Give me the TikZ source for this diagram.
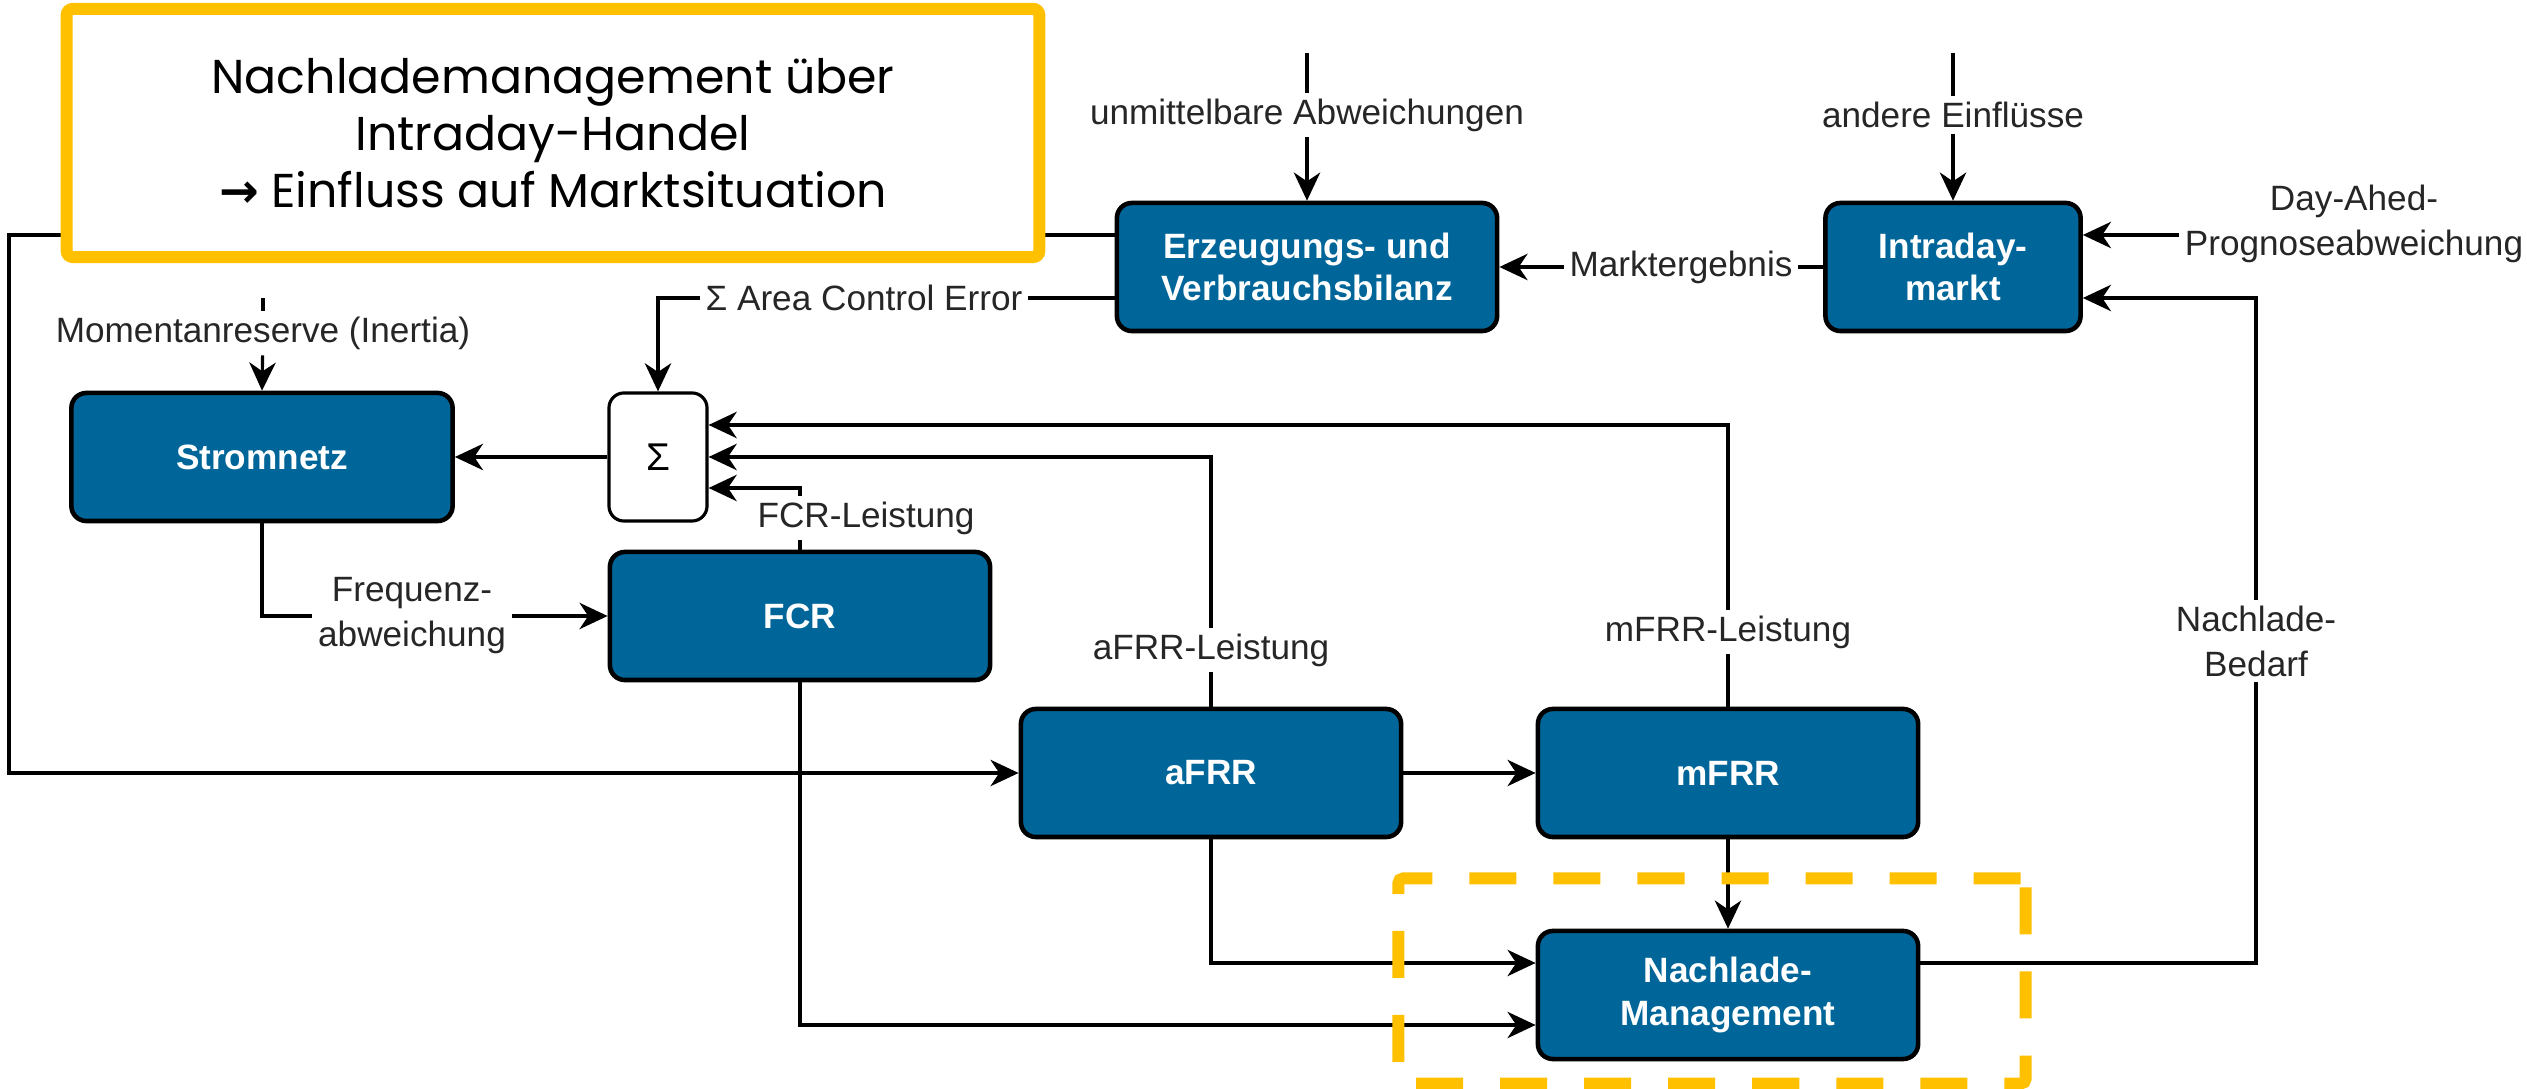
\documentclass[tikz,border=0pt]{standalone}
\usepackage{fontspec}
\setmainfont{Liberation Sans}
\newfontfamily\hinweisfont{Poppins}
\newfontfamily\pfeilfont{DejaVu Sans}
\usepackage{tikz}
\usetikzlibrary{positioning,calc,arrows.meta}
\definecolor{blockblau}{RGB}{0,102,153}
\definecolor{markgelb}{RGB}{255,192,0}
\tikzset{
  block/.style={draw=black, line width=1.3pt, fill=blockblau, rounded corners=0.15cm,
    text=white, font=\fontsize{10}{12}\selectfont\bfseries, align=center,
    minimum width=3.8cm, minimum height=1.28cm, inner sep=2pt},
  sumbox/.style={draw=black, line width=0.9pt, fill=white, rounded corners=0.15cm,
    minimum width=0.98cm, minimum height=1.28cm, font=\fontsize{11}{13}\selectfont},
  lbl/.style={fill=white, text=black!85, font=\fontsize{10}{12.8}\selectfont,
    align=center, inner sep=1.5pt},
  conn/.style={line width=0.9pt},
  arr/.style={conn, -{Stealth[length=8pt,width=7.5pt,inset=2.5pt]}},
  hinweis/.style={draw=markgelb, line width=0.12cm, fill=white, rounded corners=0.06cm,
    minimum width=9.72cm, minimum height=2.48cm, align=center,
    font=\hinweisfont\fontsize{13.5}{16.2}\selectfont},
  fokus/.style={draw=markgelb, line width=0.12cm, dash pattern=on 0.47cm off 0.37cm,
    rounded corners=0.05cm, minimum width=6.27cm, minimum height=2.05cm}
}
\begin{document}
\begin{tikzpicture}[x=0.01cm, y=-0.01cm]
\useasboundingbox (0,0) rectangle (2527,1089);

\node[block] (erz) at (1307,267) {Erzeugungs- und\\Verbrauchsbilanz};
\node[block, minimum width=2.55cm] (intra) at (1953,267) {Intraday-\\markt};
\node[block, minimum width=3.81cm] (netz) at (262,457) {Stromnetz};
\node[sumbox] (sigma) at (658,457) {Σ};
\node[block] (fcr) at (800,616) {FCR};
\node[block] (afrr) at (1211,773) {aFRR};
\node[block] (mfrr) at (1728,773) {mFRR};
\node[block] (nach) at (1728,995) {Nachlade-\\Management};

\node[lbl] (lblUnm) at (1307,115) {unmittelbare Abweichungen};
\node[lbl] (lblAnd) at (1953,115) {andere Einflüsse};
\node[lbl] (lblDay) at (2354,224) {Day-Ahed-\\Prognoseabweichung};
\node[lbl] (lblMarkt) at (1681,267) {Marktergebnis};
\node[lbl] (lblACE) at (864,298) {Σ Area Control Error};
\node[lbl] (lblMom) at (263,333) {Momentanreserve (Inertia)};
\node[lbl] (lblFreq) at (412,616) {Frequenz-\\abweichung};
\node[lbl] (lblAfrr) at (1211,650) {aFRR-Leistung};
\node[lbl] (lblMfrr) at (1728,632) {mFRR-Leistung};
\node[lbl] (lblBed) at (2256,641) {Nachlade-\\Bedarf};

\coordinate (cUnm) at (1307,53);
\coordinate (cAnd) at (1953,53);
\coordinate (cMom) at (263,298);
\coordinate (cLeft) at (9,235);

% Markt
\draw[conn] (cUnm) -- (lblUnm);
\draw[arr] (lblUnm) -- (erz);
\draw[conn] (cAnd) -- (lblAnd);
\draw[arr] (lblAnd) -- (intra);
\draw[arr] ($(lblDay.west)+(0,11)$) -- ($(intra.east)+(0,-32)$);
\draw[conn] (intra.west) -- (lblMarkt.east);
\draw[arr] (lblMarkt.west) -- (erz.east);
\draw[conn] ($(nach.east)+(0,-32)$) -| (lblBed.south);
\draw[arr] (lblBed.north) |- ($(intra.east)+(0,31)$);

% Regelung
\draw[conn] ($(erz.west)+(0,31)$) -- (lblACE.east);
\draw[arr] (lblACE.west) -| (sigma.north);
\draw[arr] ($(erz.west)+(0,-32)$) -- (cLeft) |- (afrr.west);
\draw[conn] (cMom) -- (lblMom);
\draw[arr] (lblMom) -- (netz.north);
\draw[arr] (sigma.west) -- (netz.east);
\draw[conn] (mfrr.north) -- (lblMfrr.south);
\draw[arr] (lblMfrr.north) |- ($(sigma.east)+(0,-32)$);
\draw[conn] (afrr.north) -- (lblAfrr.south);
\draw[arr] (lblAfrr.north) |- (sigma.east);
\draw[arr] (fcr.north) |- ($(sigma.east)+(0,31)$);
\node[lbl] (lblFcr) at (866,518) {FCR-Leistung};
\draw[conn] (netz.south) |- (lblFreq.west);
\draw[arr] (lblFreq.east) -- (fcr.west);
\draw[arr] (fcr.south) |- ($(nach.west)+(0,30)$);
\draw[arr] (afrr.south) |- ($(nach.west)+(0,-32)$);
\draw[arr] (afrr.east) -- (mfrr.west);
\draw[arr] (mfrr.south) -- (nach.north);

\node[hinweis] (hinweis) at (553,133) {Nachlademanagement über\\Intraday-Handel\\{\pfeilfont\bfseries →} Einfluss auf Marktsituation};
\node[fokus] (fokus) at (1712,981) {};
\end{tikzpicture}
\end{document}
